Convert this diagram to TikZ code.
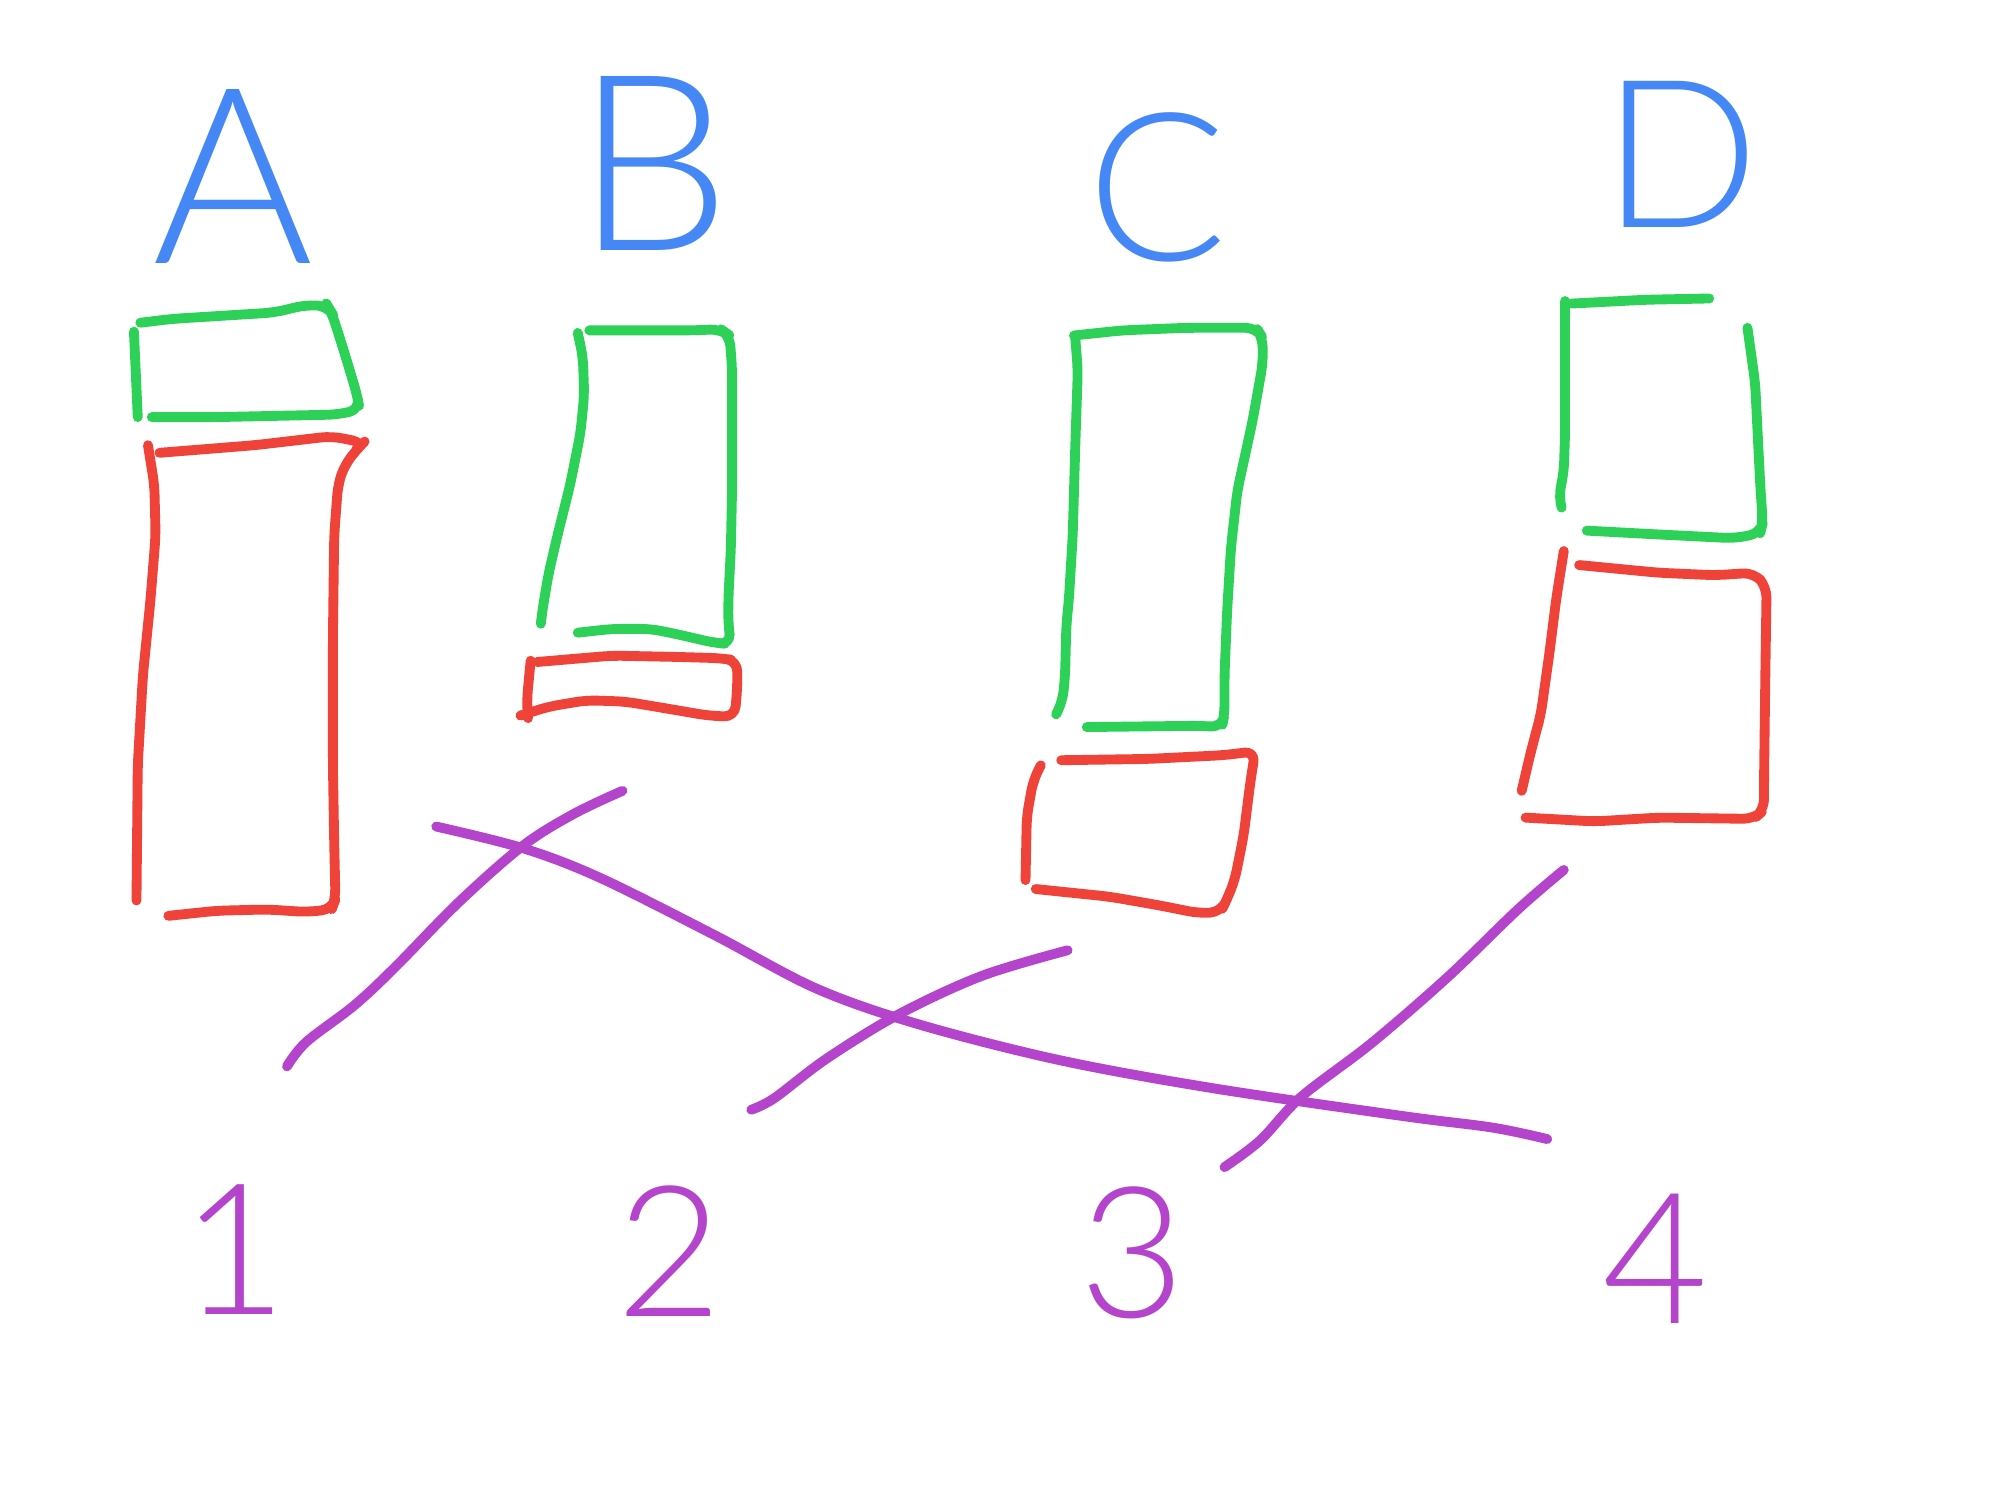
\documentclass[tikz,border=0pt]{standalone}
\usepackage{fontspec}
\setmainfont{Lato}
\newfontfamily\handfont{Lato}[UprightFont={* Light}]
\definecolor{inkblue}{HTML}{4588F5}
\definecolor{inkgreen}{HTML}{2ED158}
\definecolor{inkred}{HTML}{EF4239}
\definecolor{inkpurple}{HTML}{B444CC}
\tikzset{
  pen/.style={line width=2.8pt, line cap=round, line join=round, rounded corners=3pt},
  gpen/.style={pen, draw=inkgreen},
  rpen/.style={pen, draw=inkred},
  ppen/.style={line width=2.8pt, line cap=round, line join=round, draw=inkpurple},
  letter/.style={text=inkblue, font=\handfont\fontsize{70}{70}\selectfont, inner sep=0pt},
  digit/.style={text=inkpurple, font=\handfont\fontsize{52}{52}\selectfont, inner sep=0pt}
}
\begin{document}
\begin{tikzpicture}[x=0.012755cm, y=-0.012755cm]
\useasboundingbox (0,0) rectangle (1568,1176);

% column headings
\node[letter] (lA) at (183,138) {A};
\node[letter] (lB) at (512,128) {B};
\node[letter, scale=0.84] (lC) at (907,147) {C};
\node[letter, scale=0.84] (lD) at (1318,121) {D};

% column A
\draw[gpen] (105,260) -- (108,327);
\draw[gpen] (110,253) -- (135,250) -- (215,245) -- (240,239) -- (257,240) -- (260,245)
  -- (268,270) -- (275,293) -- (280,310) -- (282,321) -- (265,325) -- (170,327) -- (119,327);
\draw[rpen] (116,349) -- (121,380) -- (122,420) -- (118,470) -- (112,530) -- (108,600) -- (107,706);
\draw[rpen] (125,355) -- (200,349) -- (260,342) -- (285,347) -- (280,352) -- (270,365) -- (265,380)
  -- (262,420) -- (261,500) -- (261,600) -- (262,660) -- (263,705) -- (260,713) -- (240,715)
  -- (210,713) -- (170,714) -- (132,718);

% column B
\draw[gpen] (453,261) -- (457,280) -- (458,310) -- (455,340) -- (447,380) -- (437,420) -- (430,450)
  -- (425,480) -- (424,489);
\draw[gpen] (462,259) -- (545,259) -- (565,258) -- (572,263) -- (574,290) -- (574,380) -- (573,430)
  -- (571,470) -- (571,490) -- (573,505) -- (560,504) -- (530,497) -- (510,493) -- (480,493) -- (453,496);
\draw[rpen] (416,518) -- (413,550) -- (414,563);
\draw[rpen] (421,519) -- (480,514) -- (530,515) -- (565,516) -- (578,518) -- (578,540) -- (576,562)
  -- (555,561) -- (520,555) -- (490,550) -- (460,549) -- (430,554) -- (408,561);

% column C
\draw[gpen] (843,265) -- (845,290) -- (843,350) -- (841,420) -- (838,470) -- (836,490) -- (835,530)
  -- (833,550) -- (828,560);
\draw[gpen] (842,263) -- (880,259) -- (930,257) -- (985,257) -- (990,265) -- (990,285) -- (982,330)
  -- (970,385) -- (965,430) -- (962,480) -- (960,530) -- (960,560) -- (958,570) -- (940,569) -- (852,570);
\draw[rpen] (816,600) -- (810,612) -- (805,640) -- (804,690);
\draw[rpen] (832,596) -- (900,595) -- (960,592) -- (984,589) -- (980,615) -- (975,655) -- (968,690)
  -- (962,705) -- (957,715) -- (940,716) -- (910,710) -- (870,703) -- (812,697);

% column D
\draw[gpen] (1227,236) -- (1227,340) -- (1226,370) -- (1222,390) -- (1224,397);
\draw[gpen] (1232,238) -- (1290,235) -- (1340,234);
\draw[gpen] (1370,257) -- (1376,300) -- (1380,380) -- (1382,410) -- (1380,418) -- (1360,422)
  -- (1300,419) -- (1244,416);
\draw[rpen] (1226,432) -- (1220,470) -- (1215,510) -- (1208,560) -- (1200,590) -- (1193,620);
\draw[rpen] (1238,443) -- (1300,449) -- (1345,451) -- (1375,449) -- (1385,460) -- (1384,530)
  -- (1383,610) -- (1383,635) -- (1375,642) -- (1300,641) -- (1250,644) -- (1196,641);

% crossing lines
\draw[ppen] plot[smooth, tension=0.55] coordinates {(225,836) (240,817) (278,788) (310,758)
  (360,707) (410,663) (450,638) (488,620)};
\draw[ppen] plot[smooth, tension=0.55] coordinates {(342,648) (410,665) (470,688) (560,733)
  (640,775) (720,803) (830,831) (950,853) (1100,875) (1170,884) (1213,893)};
\draw[ppen] plot[smooth, tension=0.55] coordinates {(589,870) (607,861) (648,830) (705,795)
  (770,765) (837,745)};
\draw[ppen] plot[smooth, tension=0.55] coordinates {(960,915) (988,894) (1020,860) (1075,818)
  (1135,766) (1190,713) (1226,682)};

% row numbers
\node[digit] (n1) at (184,980) {1};
\node[digit] (n2) at (525,981) {2};
\node[digit] (n3) at (888,982) {3};
\node[digit] (n4) at (1298,987) {4};
\end{tikzpicture}
\end{document}
